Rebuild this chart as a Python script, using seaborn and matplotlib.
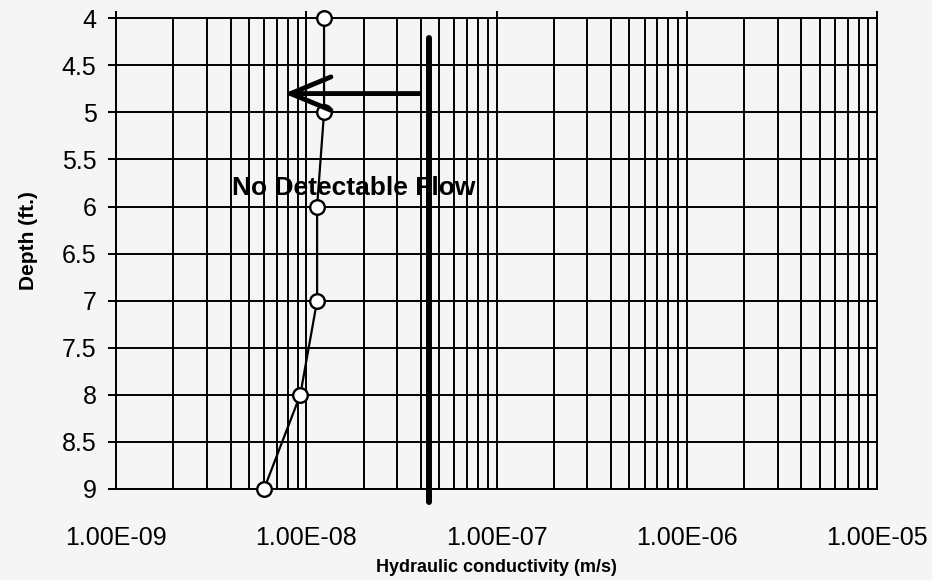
import matplotlib
matplotlib.use("Agg")
import matplotlib.pyplot as plt
import matplotlib.ticker as mticker
import seaborn as sns

# data
depth = [4, 5, 6, 7, 8, 9]
conductivity = [1.24e-8, 1.24e-8, 1.14e-8, 1.14e-8, 9.3e-9, 6.0e-9]
x_ticks = [1e-9, 1e-8, 1e-7, 1e-6, 1e-5]
x_tick_labels = ["1.00E-09", "1.00E-08", "1.00E-07", "1.00E-06", "1.00E-05"]
y_ticks = [4, 4.5, 5, 5.5, 6, 6.5, 7, 7.5, 8, 8.5, 9]
y_tick_labels = ["4", "4.5", "5", "5.5", "6", "6.5", "7", "7.5", "8", "8.5", "9"]
limit_k = 4.44e-8
limit_depth = [4.21, 9.14]
arrow_start = (3.93e-8, 4.8)
arrow_end = (7.66e-9, 4.8)
note = "No Detectable Flow"

sns.set_style("white")
plt.rcParams['font.family'] = ['Liberation Sans', 'DejaVu Sans']
plt.rcParams['text.color'] = 'black'
plt.rcParams['axes.labelcolor'] = 'black'
plt.rcParams['xtick.color'] = 'black'
plt.rcParams['ytick.color'] = 'black'

bg = "#f5f5f5"
fig = plt.figure(figsize=(9.32, 5.8), dpi=100, facecolor=bg)
ax = fig.add_axes([0.1245, 0.157, 0.8165, 0.8115])
ax.set_facecolor(bg)

ax.set_xscale("log")
ax.set_xlim(1e-9, 1e-5)
ax.set_ylim(9, 4)

ax.xaxis.set_major_locator(mticker.FixedLocator(x_ticks))
ax.xaxis.set_minor_locator(mticker.LogLocator(base=10, subs=range(2, 10)))
ax.xaxis.set_minor_formatter(mticker.NullFormatter())
ax.set_xticks(x_ticks)
ax.set_xticklabels(x_tick_labels)
ax.set_yticks(y_ticks)
ax.set_yticklabels(y_tick_labels)

ax.grid(True, which="major", axis="both", color="black", lw=1.4)
ax.grid(True, which="minor", axis="x", color="black", lw=1.4)
ax.set_axisbelow(True)

ax.tick_params(axis="x", which="both", bottom=False, top=True, labelbottom=True,
               length=0, pad=22, labelsize=18)
ax.tick_params(axis="x", which="major", top=True, length=5, width=1.4, direction="out")
ax.tick_params(axis="y", which="major", left=True, length=6, width=1.4,
               pad=8, labelsize=18, direction="out")

for s in ax.spines.values():
    s.set_color("black")
    s.set_linewidth(1.4)

# limit of detection line
ax.plot([limit_k, limit_k], limit_depth, color="black", lw=4.3,
        clip_on=False, zorder=3)

# measured profile
sns.lineplot(x=conductivity, y=depth, ax=ax, sort=False, estimator=None,
             color="black", lw=1.6, marker="o", markersize=10.5,
             markerfacecolor="white", markeredgecolor="black",
             markeredgewidth=1.7, zorder=4, clip_on=False)

ax.annotate("", xy=arrow_end, xytext=arrow_start,
            arrowprops=dict(arrowstyle="->,head_length=1.45,head_width=0.6",
                            mutation_scale=20, color="black", lw=3.5,
                            shrinkA=0, shrinkB=0),
            zorder=5)

ax.text(1.78e-8, 5.8, note, ha="center", va="center", fontsize=19,
        fontweight="bold", zorder=6)

ax.set_xlabel("Hydraulic conductivity (m/s)", fontsize=13, fontweight="bold",
              labelpad=6)
ax.set_ylabel("Depth (ft.)", fontsize=15, fontweight="bold")
ax.yaxis.set_label_coords(-0.103, 0.527)

fig.savefig("out.png", dpi=100, facecolor=bg)
